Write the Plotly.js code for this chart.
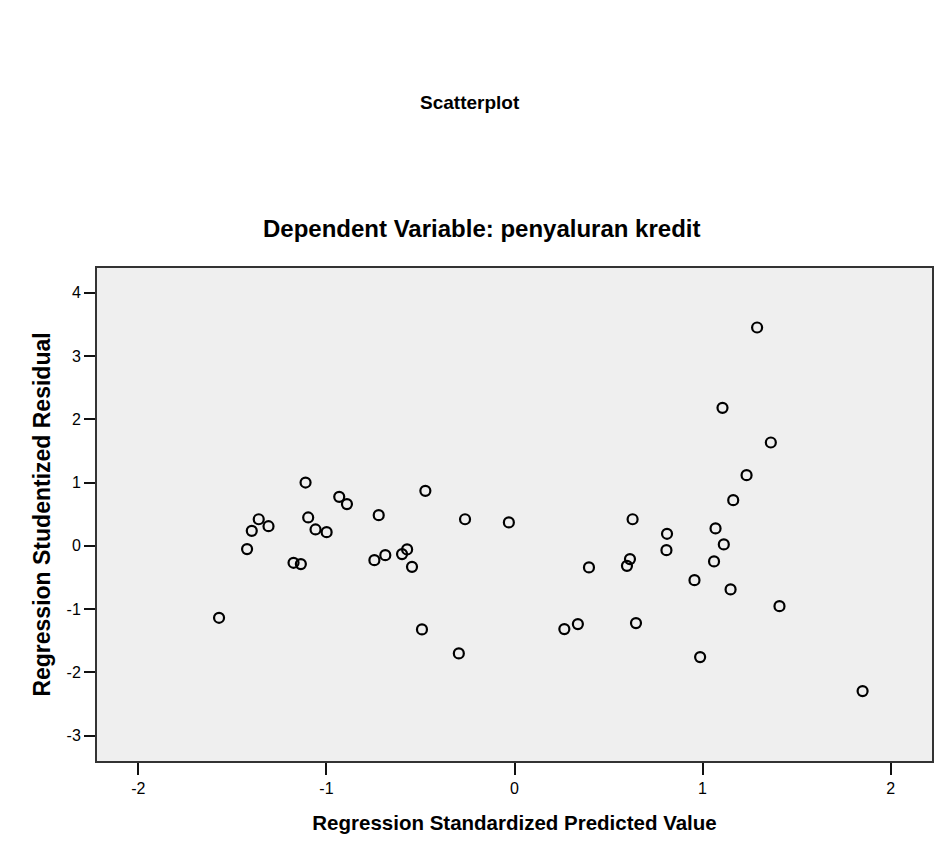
<!DOCTYPE html>
<html>
<head>
<meta charset="utf-8">
<script src="https://cdn.plot.ly/plotly-3.0.1.min.js"></script>
<style>html,body{margin:0;padding:0;background:#fff;}#chart{width:938px;height:845px;}</style>
</head>
<body>
<div id="chart"></div>
<script>
// Regression Standardized Predicted Value
const predicted = [
  -1.111, -0.932, -0.891, -0.474, -0.722, -0.263, -0.030, -1.360,
  -1.308, -1.397, -1.422, -1.097, -1.058, -0.999, -1.175, -1.136,
  -0.745, -0.687, -0.598, -0.571, -0.545, -1.571, -0.492, -0.296,
  1.290, 1.106, 1.363, 1.234, 1.163, 0.628, 0.811, 0.808,
  1.069, 1.113, 1.061, 0.396, 0.614, 0.598, 0.957, 1.149,
  1.409, 0.265, 0.337, 0.646, 0.987, 1.851
];
// Regression Studentized Residual
const residual = [
  1.000, 0.774, 0.659, 0.869, 0.485, 0.420, 0.370, 0.420,
  0.310, 0.237, -0.052, 0.448, 0.259, 0.216, -0.268, -0.289,
  -0.226, -0.147, -0.131, -0.057, -0.332, -1.137, -1.321, -1.700,
  3.450, 2.180, 1.633, 1.117, 0.722, 0.420, 0.190, -0.068,
  0.275, 0.022, -0.246, -0.341, -0.210, -0.316, -0.542, -0.689,
  -0.953, -1.316, -1.237, -1.221, -1.758, -2.295
];
const xTicks = [-2, -1, 0, 1, 2];
const yTicks = [-3, -2, -1, 0, 1, 2, 3, 4];
const mainTitle = "Scatterplot";
const subTitle = "Dependent Variable: penyaluran kredit";
const xTitle = "Regression Standardized Predicted Value";
const yTitle = "Regression Studentized Residual";

const font = "Liberation Sans, Arial, sans-serif";

const trace = {
  type: "scatter",
  mode: "markers",
  x: predicted,
  y: residual,
  marker: {symbol: "circle-open", size: 10, color: "#000", line: {width: 2.2, color: "#000"}},
  hoverinfo: "x+y"
};

const layout = {
  width: 938,
  height: 845,
  margin: {l: 97, r: 6, t: 268, b: 84},
  paper_bgcolor: "#ffffff",
  plot_bgcolor: "#efefef",
  showlegend: false,
  font: {family: font, color: "#000"},
  xaxis: {
    range: [-2.22, 2.22],
    tickvals: xTicks,
    ticktext: xTicks.map(String),
    ticks: "outside", ticklen: 12, tickwidth: 2, tickcolor: "#111",
    showgrid: false, zeroline: false,
    showline: true, linecolor: "#333", linewidth: 2, mirror: true,
    tickfont: {size: 16, family: font, color: "#000"},
    title: {text: xTitle, font: {size: 20.5, family: font, color: "#000", weight: "bold"}, standoff: 19}
  },
  yaxis: {
    range: [-3.40, 4.39],
    tickvals: yTicks,
    ticktext: yTicks.map(String),
    ticks: "outside", ticklen: 11, tickwidth: 2, tickcolor: "#111",
    showgrid: false, zeroline: false,
    showline: true, linecolor: "#333", linewidth: 2, mirror: true,
    tickfont: {size: 16, family: font, color: "#000"},
    title: {text: yTitle, font: {size: 23, family: font, color: "#000", weight: "bold"}, standoff: 10}
  },
  annotations: [
    {text: "<b>" + mainTitle + "</b>", xref: "paper", yref: "paper", x: 0.447, y: 1.335,
     xanchor: "center", yanchor: "middle", showarrow: false, font: {size: 19, family: font, color: "#000"}},
    {text: "<b>" + subTitle + "</b>", xref: "paper", yref: "paper", x: 0.46, y: 1.081,
     xanchor: "center", yanchor: "middle", showarrow: false, font: {size: 24, family: font, color: "#000"}}
  ]
};

Plotly.newPlot("chart", [trace], layout, {displayModeBar: false, staticPlot: true});
</script>
</body>
</html>
